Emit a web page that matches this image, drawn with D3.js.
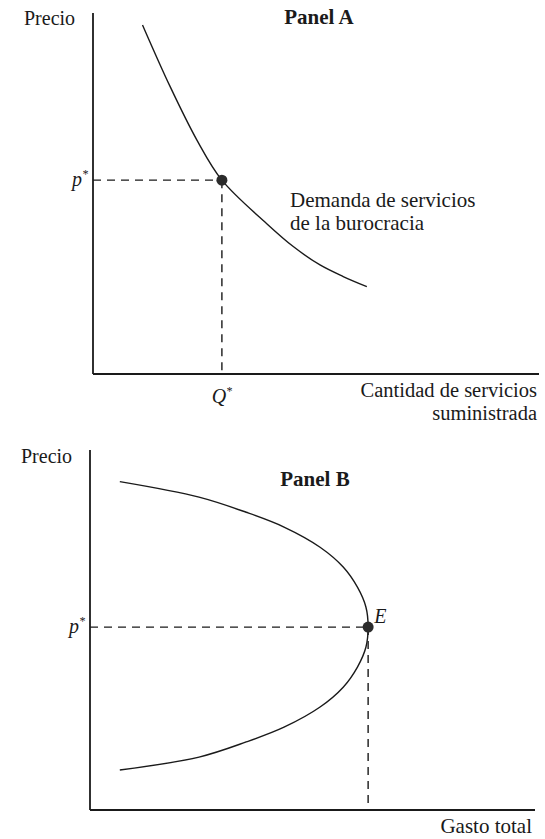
<!DOCTYPE html>
<html>
<head>
<meta charset="utf-8">
<script src="https://cdn.jsdelivr.net/npm/d3@7"></script>
<style>
  body { margin: 0; background: #fff; }
  svg text { font-family: "Liberation Serif", "DejaVu Serif", serif; fill: #1a1a1a; }
</style>
</head>
<body>
<svg id="chart" width="545" height="839"></svg>
<script>
//
// Data (arbitrary 0-10 units)
//

// Panel A: demand curve for bureaucratic services
var demandX = [1.11, 1.73, 2.33, 2.89, 3.89, 4.49, 5.09, 5.61, 6.14];
var demandY = [9.67, 7.96, 6.48, 5.37, 4.17, 3.53, 3.02, 2.70, 2.42];
var equilA = {x: 2.89, y: 5.37};

// Panel B: total spending vs price (sideways parabola)
var spendX = [0.67, 2.45, 3.51, 4.36, 5.17, 5.69, 6.01, 6.20, 6.25, 6.20, 6.01, 5.69, 5.17, 4.36, 3.51, 2.45, 0.67];
var spendY = [9.12, 8.69, 8.27, 7.86, 7.30, 6.75, 6.19, 5.64, 5.08, 4.52, 3.97, 3.41, 2.86, 2.30, 1.89, 1.47, 1.11];
var equilB = {x: 6.25, y: 5.08};

var svg = d3.select("#chart");

//Draw one panel
function panel(opt) {
  var x = d3.scaleLinear().domain([0, 10]).range([opt.left, opt.right]);
  var y = d3.scaleLinear().domain([0, 10]).range([opt.bottom, opt.top]);
  var g = svg.append("g");

  //axes
  g.append("line")
    .attr("x1", x(0)).attr("y1", y(0))
    .attr("x2", x(0)).attr("y2", y(10))
    .attr("stroke", "#1a1a1a").attr("stroke-width", 1.8);
  g.append("line")
    .attr("x1", x(0)).attr("y1", y(0))
    .attr("x2", x(10)).attr("y2", y(0))
    .attr("stroke", "#1a1a1a").attr("stroke-width", 1.8);

  //curve
  var pts = opt.xs.map(function(d, i) { return [d, opt.ys[i]]; });
  var line = d3.line()
    .x(function(d) { return x(d[0]); })
    .y(function(d) { return y(d[1]); })
    .curve(d3.curveCatmullRom);
  g.append("path")
    .attr("d", line(pts))
    .attr("fill", "none")
    .attr("stroke", "#1a1a1a")
    .attr("stroke-width", 1.4);

  //dashed guides
  g.append("line")
    .attr("x1", x(0)).attr("y1", y(opt.eq.y))
    .attr("x2", x(opt.eq.x)).attr("y2", y(opt.eq.y))
    .attr("stroke", "#1a1a1a").attr("stroke-width", 1.4)
    .attr("stroke-dasharray", "8,6");
  g.append("line")
    .attr("x1", x(opt.eq.x)).attr("y1", y(opt.eq.y))
    .attr("x2", x(opt.eq.x)).attr("y2", y(0))
    .attr("stroke", "#1a1a1a").attr("stroke-width", 1.4)
    .attr("stroke-dasharray", "8,6");

  //equilibrium point
  g.append("circle")
    .attr("cx", x(opt.eq.x)).attr("cy", y(opt.eq.y))
    .attr("r", 5.5)
    .attr("fill", "#2b2b2b");

  //labels
  g.append("text")
    .attr("x", opt.precioX).attr("y", opt.precioY)
    .attr("font-size", 20)
    .text("Precio");
  g.append("text")
    .attr("x", opt.titleX).attr("y", opt.titleY)
    .attr("text-anchor", "middle")
    .attr("font-size", 21).attr("font-weight", "bold")
    .text(opt.title);
  var p = g.append("text")
    .attr("x", x(0) - 5).attr("y", y(opt.eq.y) + 6)
    .attr("text-anchor", "end")
    .attr("font-size", 20).attr("font-style", "italic");
  p.append("tspan").text("p");
  p.append("tspan").attr("dy", -8).attr("font-size", 12).text("*");

  return {x: x, y: y, g: g};
}

var A = panel({
  left: 93, right: 539, top: 13, bottom: 374,
  xs: demandX, ys: demandY, eq: equilA,
  title: "Panel A", titleX: 319, titleY: 24,
  precioX: 24, precioY: 25
});

var q = A.g.append("text")
  .attr("x", A.x(equilA.x)).attr("y", 403)
  .attr("text-anchor", "middle")
  .attr("font-size", 20).attr("font-style", "italic");
q.append("tspan").text("Q");
q.append("tspan").attr("dy", -8).attr("font-size", 12).text("*");

A.g.append("text").attr("x", 290).attr("y", 207).attr("font-size", 21)
  .text("Demanda de servicios");
A.g.append("text").attr("x", 290).attr("y", 230).attr("font-size", 21)
  .text("de la burocracia");
A.g.append("text").attr("x", 537).attr("y", 397).attr("text-anchor", "end")
  .attr("font-size", 20.5).text("Cantidad de servicios");
A.g.append("text").attr("x", 537).attr("y", 420).attr("text-anchor", "end")
  .attr("font-size", 20.5).text("suministrada");

var B = panel({
  left: 90, right: 535, top: 450, bottom: 810,
  xs: spendX, ys: spendY, eq: equilB,
  title: "Panel B", titleX: 315, titleY: 486,
  precioX: 21, precioY: 463
});

B.g.append("text")
  .attr("x", B.x(equilB.x) + 6).attr("y", 623)
  .attr("font-size", 20).attr("font-style", "italic")
  .text("E");
B.g.append("text").attr("x", 532).attr("y", 833).attr("text-anchor", "end")
  .attr("font-size", 21).text("Gasto total");
</script>
</body>
</html>
